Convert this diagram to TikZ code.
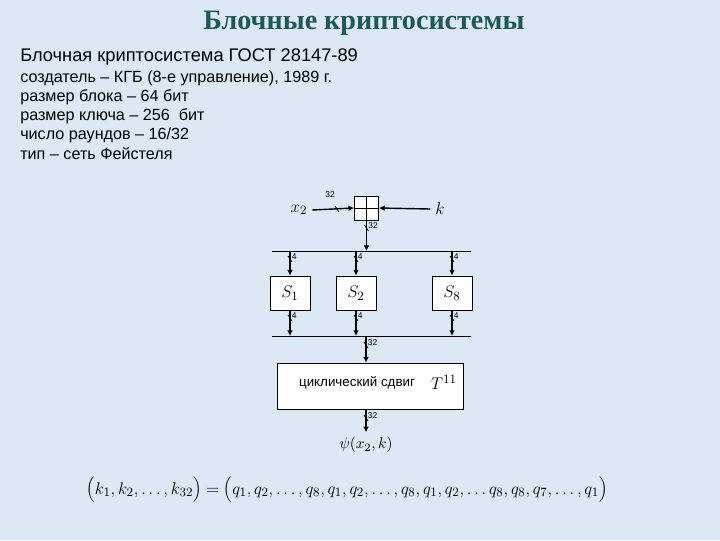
\documentclass[tikz,border=0pt]{standalone}
\usepackage{fontspec}
\setmainfont{Liberation Serif}
\setsansfont{Liberation Sans}
\usetikzlibrary{arrows.meta}

\definecolor{slidebg}{RGB}{220,232,244}
\definecolor{titleteal}{RGB}{30,88,92}

\tikzset{
  sig/.style={line width=1pt, -{Latex[length=4pt,width=4pt]}},
  bus/.style={line width=0.6pt},
  box/.style={draw, line width=0.6pt, fill=white, inner sep=0pt},
  sbox/.style={box, minimum width=1cm, minimum height=0.85cm},
  wlabel/.style={font=\sffamily\fontsize{6}{6}\selectfont, inner sep=0.5pt},
  info/.style={font=\sffamily\fontsize{11.5}{13}\selectfont, anchor=west, inner sep=0pt},
  mlabel/.style={font=\fontsize{13}{15}\selectfont},
}

% bit-width tick on a line: name, x, y, text
\newcommand\buswidth[4]{%
  \draw[line width=0.5pt] (#2,#3) ++(-2,-3) -- ++(4,6);
  \node[wlabel, anchor=west] (#1) at (#2+1,#3-2) {#4};}

\begin{document}
\begin{tikzpicture}[x=0.025cm, y=-0.025cm]
  \fill[slidebg] (0,0) rectangle (720,540);
  \useasboundingbox (0,0) rectangle (720,540);

  % header text
  \node[font=\bfseries\fontsize{20}{23}\selectfont, text=titleteal] (title) at (364,23) {Блочные криптосистемы};
  \node[font=\sffamily\fontsize{13}{15}\selectfont, anchor=west, inner sep=0pt] (gost) at (20,57) {Блочная криптосистема ГОСТ 28147-89};
  \node[info] (author) at (20,78) {создатель – КГБ (8-е управление), 1989 г.};
  \node[info] (block) at (20,97) {размер блока – 64 бит};
  \node[info] (keylen) at (20,116) {размер ключа – 256 \ бит};
  \node[info] (rounds) at (20,135) {число раундов – 16/32};
  \node[info] (type) at (20,154) {тип – сеть Фейстеля};

  % adder
  \node[mlabel] (x2) at (299,210) {$x_2$};
  \node[box, minimum size=0.6cm] (sum) at (366.5,208) {};
  \draw[line width=0.6pt] (sum.north) -- (sum.south) (sum.west) -- (sum.east);
  \node[mlabel] (key) at (440,209) {$k$};
  \draw[sig] (x2.east) -- (sum.west);
  \draw[sig] (key.west) -- (sum.east);
  \draw[line width=0.5pt] (337,209) ++(-2,-3) -- ++(4,6);
  \node[wlabel] (w0) at (330,195) {32};

  % buses
  \coordinate (bus1l) at (272,251);
  \coordinate (bus1r) at (471,251);
  \coordinate (bus2l) at (272,336);
  \coordinate (bus2r) at (471,336);
  \draw[bus] (bus1l) -- (bus1r);
  \draw[bus] (bus2l) -- (bus2r);
  \draw[sig] (sum.south) -- (sum.south |- bus1l);
  \buswidth{w1}{366.5}{228}{32}

  % S-boxes
  \node[sbox, mlabel] (s1) at (290,293) {$S_1$};
  \node[sbox, mlabel] (s2) at (356,293) {$S_2$};
  \node[sbox, mlabel] (s8) at (452,293) {$S_8$};
  \foreach \s/\x in {s1/290,s2/356,s8/452} {
    \draw[sig] (\s.north |- bus1l) -- (\s.north);
    \draw[sig] (\s.south) -- (\s.south |- bus2l);
    \buswidth{\s in}{\x}{259}{4}
    \buswidth{\s out}{\x}{318}{4}
  }

  % rotation
  \node[box, minimum width=4.65cm, minimum height=1.15cm] (shift) at (370,386) {};
  \coordinate (tap) at (366,336);
  \draw[sig] (tap) -- (tap |- shift.north);
  \buswidth{w2}{366}{345}{32}
  \node[font=\sffamily\fontsize{9.5}{11}\selectfont] (shiftname) at (357,383) {циклический сдвиг};
  \node[mlabel] (rot) at (444,382) {$T^{11}$};
  \node[font=\fontsize{11}{13}\selectfont] (psi) at (366,445) {$\psi(x_2,k)$};
  \draw[sig] (tap |- shift.south) -- (tap |- psi.north);
  \buswidth{w3}{366}{418}{32}

  % key schedule
  \node[font=\fontsize{12.5}{15}\selectfont] (seq) at (347,490)
    {$\Bigl(k_1,k_2,\ldots,k_{32}\Bigr)=\Bigl(q_1,q_2,\ldots,q_8,q_1,q_2,\ldots,q_8,q_1,q_2,\ldots q_8,q_8,q_7,\ldots,q_1\Bigr)$};
\end{tikzpicture}
\end{document}
